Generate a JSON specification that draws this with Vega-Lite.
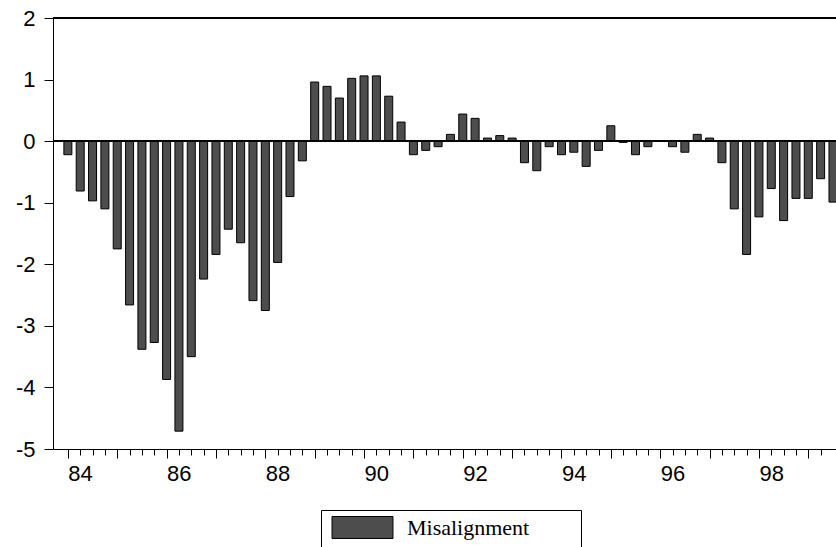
{
  "$schema": "https://vega.github.io/schema/vega-lite/v6.json",
  "autosize": "none",
  "padding": {"left": 53, "top": 18, "right": 0, "bottom": 98},
  "width": 783,
  "height": 431,
  "background": "white",
  "config": {"view": {"stroke": null}},
  "data": {"values": [
    {"t": 1984.0, "v": -0.22, "s": "Misalignment"}, {"t": 1984.25, "v": -0.81, "s": "Misalignment"}, {"t": 1984.5, "v": -0.97, "s": "Misalignment"}, {"t": 1984.75, "v": -1.10, "s": "Misalignment"},
    {"t": 1985.0, "v": -1.75, "s": "Misalignment"}, {"t": 1985.25, "v": -2.66, "s": "Misalignment"}, {"t": 1985.5, "v": -3.38, "s": "Misalignment"}, {"t": 1985.75, "v": -3.27, "s": "Misalignment"},
    {"t": 1986.0, "v": -3.87, "s": "Misalignment"}, {"t": 1986.25, "v": -4.71, "s": "Misalignment"}, {"t": 1986.5, "v": -3.50, "s": "Misalignment"}, {"t": 1986.75, "v": -2.24, "s": "Misalignment"},
    {"t": 1987.0, "v": -1.84, "s": "Misalignment"}, {"t": 1987.25, "v": -1.43, "s": "Misalignment"}, {"t": 1987.5, "v": -1.65, "s": "Misalignment"}, {"t": 1987.75, "v": -2.59, "s": "Misalignment"},
    {"t": 1988.0, "v": -2.75, "s": "Misalignment"}, {"t": 1988.25, "v": -1.97, "s": "Misalignment"}, {"t": 1988.5, "v": -0.90, "s": "Misalignment"}, {"t": 1988.75, "v": -0.32, "s": "Misalignment"},
    {"t": 1989.0, "v": 0.96, "s": "Misalignment"}, {"t": 1989.25, "v": 0.89, "s": "Misalignment"}, {"t": 1989.5, "v": 0.70, "s": "Misalignment"}, {"t": 1989.75, "v": 1.02, "s": "Misalignment"},
    {"t": 1990.0, "v": 1.06, "s": "Misalignment"}, {"t": 1990.25, "v": 1.06, "s": "Misalignment"}, {"t": 1990.5, "v": 0.73, "s": "Misalignment"}, {"t": 1990.75, "v": 0.31, "s": "Misalignment"},
    {"t": 1991.0, "v": -0.22, "s": "Misalignment"}, {"t": 1991.25, "v": -0.15, "s": "Misalignment"}, {"t": 1991.5, "v": -0.09, "s": "Misalignment"}, {"t": 1991.75, "v": 0.11, "s": "Misalignment"},
    {"t": 1992.0, "v": 0.44, "s": "Misalignment"}, {"t": 1992.25, "v": 0.37, "s": "Misalignment"}, {"t": 1992.5, "v": 0.05, "s": "Misalignment"}, {"t": 1992.75, "v": 0.09, "s": "Misalignment"},
    {"t": 1993.0, "v": 0.05, "s": "Misalignment"}, {"t": 1993.25, "v": -0.35, "s": "Misalignment"}, {"t": 1993.5, "v": -0.48, "s": "Misalignment"}, {"t": 1993.75, "v": -0.09, "s": "Misalignment"},
    {"t": 1994.0, "v": -0.22, "s": "Misalignment"}, {"t": 1994.25, "v": -0.18, "s": "Misalignment"}, {"t": 1994.5, "v": -0.41, "s": "Misalignment"}, {"t": 1994.75, "v": -0.15, "s": "Misalignment"},
    {"t": 1995.0, "v": 0.25, "s": "Misalignment"}, {"t": 1995.25, "v": -0.02, "s": "Misalignment"}, {"t": 1995.5, "v": -0.22, "s": "Misalignment"}, {"t": 1995.75, "v": -0.09, "s": "Misalignment"},
    {"t": 1996.0, "v": 0.01, "s": "Misalignment"}, {"t": 1996.25, "v": -0.09, "s": "Misalignment"}, {"t": 1996.5, "v": -0.18, "s": "Misalignment"}, {"t": 1996.75, "v": 0.11, "s": "Misalignment"},
    {"t": 1997.0, "v": 0.05, "s": "Misalignment"}, {"t": 1997.25, "v": -0.35, "s": "Misalignment"}, {"t": 1997.5, "v": -1.10, "s": "Misalignment"}, {"t": 1997.75, "v": -1.84, "s": "Misalignment"},
    {"t": 1998.0, "v": -1.23, "s": "Misalignment"}, {"t": 1998.25, "v": -0.77, "s": "Misalignment"}, {"t": 1998.5, "v": -1.29, "s": "Misalignment"}, {"t": 1998.75, "v": -0.93, "s": "Misalignment"},
    {"t": 1999.0, "v": -0.93, "s": "Misalignment"}, {"t": 1999.25, "v": -0.61, "s": "Misalignment"}, {"t": 1999.5, "v": -0.99, "s": "Misalignment"}
  ]},
  "layer": [
    {
      "mark": {"type": "bar", "size": 8, "stroke": "black", "strokeWidth": 1, "clip": true},
      "encoding": {
        "x": {
          "field": "t", "type": "quantitative",
          "scale": {"domain": [1983.8, 1999.46], "nice": false, "zero": false},
          "axis": {
            "title": null, "grid": false,
            "values": [1984, 1984.25, 1984.5, 1984.75, 1985, 1985.25, 1985.5, 1985.75, 1986, 1986.25, 1986.5, 1986.75, 1987, 1987.25, 1987.5, 1987.75, 1988, 1988.25, 1988.5, 1988.75, 1989, 1989.25, 1989.5, 1989.75, 1990, 1990.25, 1990.5, 1990.75, 1991, 1991.25, 1991.5, 1991.75, 1992, 1992.25, 1992.5, 1992.75, 1993, 1993.25, 1993.5, 1993.75, 1994, 1994.25, 1994.5, 1994.75, 1995, 1995.25, 1995.5, 1995.75, 1996, 1996.25, 1996.5, 1996.75, 1997, 1997.25, 1997.5, 1997.75, 1998, 1998.25, 1998.5, 1998.75, 1999, 1999.25],
            "labelExpr": "datum.value % 2 == 0 ? '' + (datum.value - 1900) : ''",
            "tickSize": {"condition": {"test": "datum.value % 1 == 0", "value": 9}, "value": 6},
            "tickColor": "black", "domainColor": "black", "tickWidth": 1, "domainWidth": 1,
            "labelFont": "Liberation Sans", "labelFontSize": 22, "labelColor": "black",
            "labelAlign": "left",
            "labelPadding": 5, "labelFlush": false, "labelOverlap": false
          }
        },
        "y": {
          "field": "v", "type": "quantitative",
          "scale": {"domain": [-5, 2], "nice": false, "zero": false},
          "axis": {
            "title": null, "grid": false, "values": [-5, -4, -3, -2, -1, 0, 1, 2],
            "labelExpr": "'' + datum.value",
            "tickSize": 9, "tickColor": "black", "domainColor": "black",
            "labelFont": "Liberation Sans", "labelFontSize": 22, "labelColor": "black",
            "labelPadding": 9, "labelFlush": false, "labelOverlap": false
          }
        },
        "color": {
          "field": "s", "type": "nominal",
          "scale": {"range": ["#4d4d4d"]},
          "legend": {
            "title": null, "orient": "none", "legendX": 268, "legendY": 492,
            "strokeColor": "black", "padding": 6,
            "symbolType": "M-2.77,-1H2.77V1H-2.77ZM19.05,0", "symbolSize": 484,
            "symbolStrokeColor": "black", "symbolStrokeWidth": 1, "symbolOffset": 24,
            "labelFont": "Liberation Serif", "labelFontSize": 22, "labelColor": "black",
            "labelOffset": 33
          }
        }
      }
    },
    {
      "mark": {"type": "rule", "color": "black", "strokeWidth": 1},
      "encoding": {"y": {"datum": 0}}
    },
    {
      "mark": {"type": "rule", "color": "black", "strokeWidth": 1},
      "encoding": {"y": {"datum": 2}}
    }
  ]
}
